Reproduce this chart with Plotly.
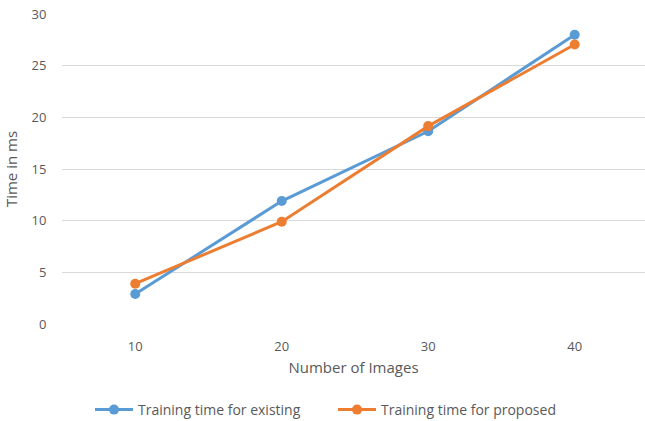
import plotly.graph_objects as go

categories = [10, 20, 30, 40]
existing = [2.9, 11.9, 18.65, 28.0]
proposed = [3.9, 9.9, 19.15, 27.05]
y_ticks = [0, 5, 10, 15, 20, 25, 30]

FONT = "Open Sans"
GRAY = "#595959"

fig = go.Figure()
fig.add_trace(go.Scatter(x=categories, y=existing, mode="lines+markers",
                         name="Training time for existing",
                         line=dict(color="#5B9BD5", width=3),
                         marker=dict(size=10, color="#5B9BD5")))
fig.add_trace(go.Scatter(x=categories, y=proposed, mode="lines+markers",
                         name="Training time for proposed",
                         line=dict(color="#ED7D31", width=3),
                         marker=dict(size=10, color="#ED7D31")))

fig.update_layout(
    width=645, height=421,
    margin=dict(l=62, r=0, t=14, b=97),
    paper_bgcolor="white", plot_bgcolor="white",
    font=dict(family=FONT, size=13, color=GRAY),
    showlegend=True,
    legend=dict(orientation="h", xref="container", yref="container",
                x=(95 - 5) / 645, xanchor="left", y=1 - 410 / 421, yanchor="middle",
                font=dict(size=14, color=GRAY), entrywidth=190, entrywidthmode="pixels",
                itemwidth=38, tracegroupgap=0),
    xaxis=dict(range=[5, 44.8], tickvals=categories, ticktext=[str(c) for c in categories],
               showgrid=False, zeroline=False, showline=False, automargin=False,
               ticks="outside", ticklen=10, tickcolor="rgba(0,0,0,0)",
               tickfont=dict(size=13, color=GRAY),
               title=dict(text="Number of Images", standoff=8,
                          font=dict(size=15, color=GRAY))),
    yaxis=dict(range=[0, 30], tickvals=y_ticks, showgrid=True, gridcolor="#D9D9D9",
               gridwidth=1, zeroline=False, showline=False, automargin=False,
               ticks="outside", ticklen=12, tickcolor="rgba(0,0,0,0)",
               tickfont=dict(size=13, color=GRAY),
               title=dict(text="Time in ms", standoff=10,
                          font=dict(size=15, color=GRAY))),
)

fig.write_html("out.html")
